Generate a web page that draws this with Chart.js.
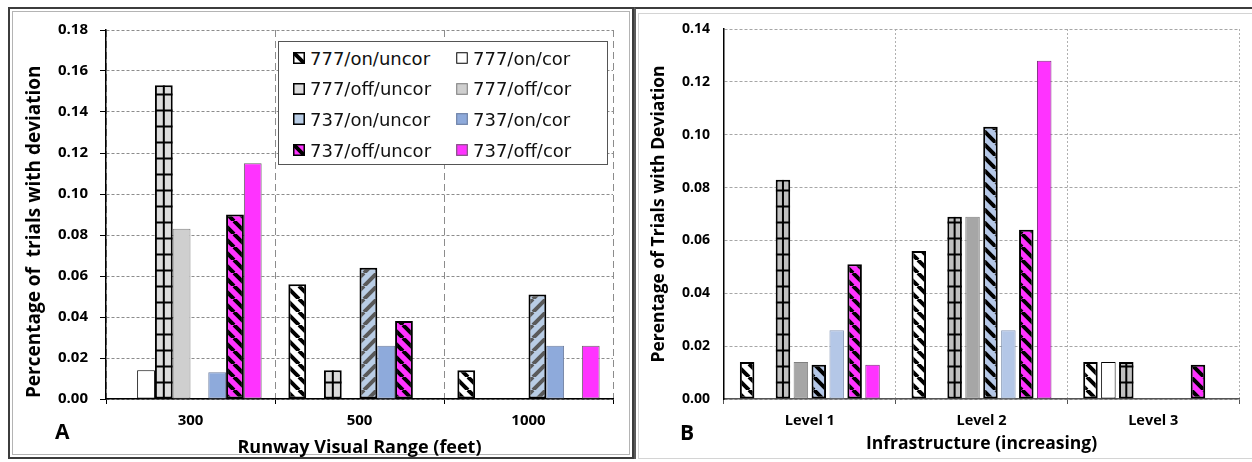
<!DOCTYPE html>
<html>
<head>
<meta charset="utf-8">
<script src="https://cdn.jsdelivr.net/npm/chart.js@4.4.1/dist/chart.umd.min.js"></script>
<style>
body { margin: 0; width: 1252px; height: 462px; background: #fff; position: relative; overflow: hidden; font-family: 'Open Sans', sans-serif; }
.frame { position: absolute; box-sizing: border-box; }
#frameA { left: 8px; top: 7px; width: 626px; height: 452px; border: 2px solid #3c3c3c; }
#frameA::after { content: ''; position: absolute; left: 2px; top: 2px; right: 2px; bottom: 2px; border: 1px solid #b4b4b4; }
#frameB { left: 634px; top: 7px; width: 640px; height: 452px; border-top: 2px solid #3c3c3c; border-left: 2px solid #5a5a5a; }
#frameB::after { content: ''; position: absolute; left: 2px; top: 4px; right: 0; bottom: 0; border: 1px solid #d4d4d4; }
#chartA { position: absolute; left: 0; top: 0; }
#chartB { position: absolute; left: 632px; top: 0; }
#legendA { position: absolute; left: 278px; top: 41px; width: 330px; height: 124px; box-sizing: border-box; border: 1px solid #555; background: #fff; font-family: 'DejaVu Sans', sans-serif; font-size: 18px; color: #111; }
.item { position: absolute; display: flex; align-items: center; height: 24px; white-space: nowrap; }
.item canvas { margin-right: 5px; }
.letter { position: absolute; font: bold 21px/21px 'Open Sans', sans-serif; color: #000; }
</style>
</head>
<body>
<div class="frame" id="frameA"></div>
<div class="frame" id="frameB"></div>
<canvas id="chartA" width="632" height="462"></canvas>
<canvas id="chartB" width="620" height="462"></canvas>
<div id="legendA"></div>
<div class="letter" style="left:55px; top:421px;">A</div>
<div class="letter" style="left:680px; top:422px;">B</div>

<script>
// categorias
const rvrLabels = ['300', '500', '1000'];
const levelLabels = ['Level 1', 'Level 2', 'Level 3'];
const seriesNames = ['777/on/uncor', '777/on/cor', '777/off/uncor', '777/off/cor',
                     '737/on/uncor', '737/on/cor', '737/off/uncor', '737/off/cor'];

// Panel A: por distancia visual de pista
const a777OnUncor  = [0,     0.056, 0.014];
const a777OnCor    = [0.014, 0,     0];
const a777OffUncor = [0.153, 0.014, 0];
const a777OffCor   = [0.083, 0,     0];
const a737OnUncor  = [0,     0.064, 0.051];
const a737OnCor    = [0.013, 0.026, 0.026];
const a737OffUncor = [0.090, 0.038, 0];
const a737OffCor   = [0.115, 0,     0.026];

// Panel B: por nivel de infraestructura
const b777OnUncor  = [0.014, 0.056, 0.014];
const b777OnCor    = [0,     0,     0.014];
const b777OffUncor = [0.083, 0.069, 0.014];
const b777OffCor   = [0.014, 0.069, 0];
const b737OnUncor  = [0.013, 0.103, 0];
const b737OnCor    = [0.026, 0.026, 0];
const b737OffUncor = [0.051, 0.064, 0.013];
const b737OffCor   = [0.013, 0.128, 0];

const valuesA = [a777OnUncor, a777OnCor, a777OffUncor, a777OffCor, a737OnUncor, a737OnCor, a737OffUncor, a737OffCor];
const valuesB = [b777OnUncor, b777OnCor, b777OffUncor, b777OffCor, b737OnUncor, b737OnCor, b737OffUncor, b737OffCor];

const FONT = 'Open Sans';

// Trama diagonal para las barras rayadas
function hatch(bg, fg, dir, size, lw) {
    const c = document.createElement('canvas');
    c.width = size; c.height = size;
    const g = c.getContext('2d');
    g.fillStyle = bg;
    g.fillRect(0, 0, size, size);
    g.strokeStyle = fg;
    g.lineWidth = lw;
    g.beginPath();
    for (let k = -1; k <= 1; k++) {
        if (dir === 'down') { g.moveTo(k * size, 0); g.lineTo((k + 1) * size, size); }
        else { g.moveTo(k * size, size); g.lineTo((k + 1) * size, 0); }
    }
    g.stroke();
    return g.createPattern(c, 'repeat');
}

const stylesA = [
    { bg: hatch('#ffffff', '#000', 'down', 13, 4), border: '#000', bw: 2 },
    { bg: '#ffffff', border: '#000', bw: 1 },
    { bg: '#dcdcdc', border: '#000', bw: 2, grid: 16 },
    { bg: '#cfcfcf', border: '#808080', bw: 1 },
    { bg: hatch('#b9cde5', '#5a5a5a', 'up', 13, 4), border: '#000', bw: 2, swatch: '#b9cde5' },
    { bg: '#8eaadb', border: '#6f7f9f', bw: 1 },
    { bg: hatch('#ff33ff', '#000', 'down', 13, 4), border: '#000', bw: 2 },
    { bg: '#ff33ff', border: '#666', bw: 1 }
];

const stylesB = [
    { bg: hatch('#ffffff', '#000', 'down', 13, 4), border: '#000', bw: 2 },
    { bg: '#ffffff', border: '#000', bw: 1 },
    { bg: '#c0c0c0', border: '#000', bw: 2, grid: 16 },
    { bg: '#a6a6a6', border: '#808080', bw: 1 },
    { bg: hatch('#b4c7e7', '#000', 'down', 13, 4), border: '#000', bw: 2 },
    { bg: '#b4c7e7', border: '#8a9bb8', bw: 1 },
    { bg: hatch('#ff33ff', '#000', 'down', 13, 4), border: '#000', bw: 2 },
    { bg: '#ff33ff', border: '#7f2f7f', bw: 1 }
];

// Cuadricula dentro de las barras 777/off/uncor
const gridFill = {
    id: 'gridFill',
    afterDatasetsDraw(chart) {
        const ctx = chart.ctx;
        chart.data.datasets.forEach((ds, i) => {
            if (!ds.gridStep) return;
            chart.getDatasetMeta(i).data.forEach(bar => {
                const left = bar.x - bar.width / 2;
                const top = bar.y, bottom = bar.base;
                if (bottom - top < 1) return;
                ctx.save();
                ctx.beginPath();
                ctx.rect(left, top, bar.width, bottom - top);
                ctx.clip();
                ctx.strokeStyle = '#000';
                ctx.lineWidth = 2;
                ctx.beginPath();
                for (let y = bottom - ds.gridStep; y > top + 2; y -= ds.gridStep) {
                    ctx.moveTo(left, y);
                    ctx.lineTo(left + bar.width, y);
                }
                ctx.moveTo(bar.x, top);
                ctx.lineTo(bar.x, bottom);
                ctx.stroke();
                ctx.restore();
            });
        });
    }
};

function makeDatasets(values, styles) {
    return values.map((data, i) => ({
        label: seriesNames[i],
        data: data,
        backgroundColor: styles[i].bg,
        borderColor: styles[i].border,
        borderWidth: styles[i].bw,
        borderSkipped: false,
        gridStep: styles[i].grid || 0,
        swatch: styles[i].swatch
    }));
}

const chartA = new Chart(document.getElementById('chartA'), {
    type: 'bar',
    data: { labels: rvrLabels, datasets: makeDatasets(valuesA, stylesA) },
    options: {
        responsive: false,
        animation: false,
        categoryPercentage: 0.842,
        barPercentage: 1.0,
        layout: { padding: { left: 0, right: 19, top: 30, bottom: 3 } },
        plugins: { legend: { display: false }, tooltip: { enabled: false } },
        scales: {
            x: {
                afterFit: s => { s.height = 60; },
                grid: { color: '#8c8c8c', tickLength: 5, tickColor: '#000' },
                border: { color: '#000', width: 1.5, dash: [7, 4] },
                ticks: { color: '#000', padding: 8, font: { family: FONT, weight: 'bold', size: 15 } },
                title: { display: true, text: 'Runway Visual Range (feet)', color: '#000', padding: 0,
                         font: { family: FONT, weight: 'bold', size: 18 } }
            },
            y: {
                min: 0, max: 0.18,
                afterFit: s => { s.width = 106; },
                grid: { color: '#8c8c8c', tickLength: 6, tickColor: '#000' },
                border: { color: '#000', width: 1.5, dash: [3, 2] },
                ticks: { stepSize: 0.02, color: '#000', padding: 12, callback: v => v.toFixed(2),
                         font: { family: FONT, weight: 'bold', size: 15 } },
                // espacios finales: en el original el titulo esta algo mas abajo que el centro
                title: { display: true, text: 'Percentage of  trials with deviation       ', color: '#000',
                         padding: { top: 23, bottom: 0 }, font: { family: FONT, weight: 'bold', size: 19 } }
            }
        }
    },
    plugins: [gridFill]
});

const chartB = new Chart(document.getElementById('chartB'), {
    type: 'bar',
    data: { labels: levelLabels, datasets: makeDatasets(valuesB, stylesB) },
    options: {
        responsive: false,
        animation: false,
        categoryPercentage: 0.835,
        barPercentage: 0.81,
        layout: { padding: { left: 0, right: 13, top: 29, bottom: 7 } },
        plugins: { legend: { display: false }, tooltip: { enabled: false } },
        scales: {
            x: {
                afterFit: s => { s.height = 56; },
                grid: { color: '#b0b0b0', tickLength: 5, tickColor: '#555' },
                border: { color: '#555', width: 1.5, dash: [2, 2] },
                ticks: { color: '#000', padding: 8, font: { family: FONT, weight: 'bold', size: 14.5 } },
                title: { display: true, text: 'Infrastructure (increasing)', color: '#000', padding: 0,
                         font: { family: FONT, weight: 'bold', size: 17.5 } }
            },
            y: {
                min: 0, max: 0.14,
                afterFit: s => { s.width = 92; },
                grid: { color: '#a6a6a6', drawTicks: false },
                border: { color: '#000', width: 1.5, dash: [3, 2] },
                ticks: { stepSize: 0.02, color: '#000', padding: 14, callback: v => v.toFixed(2),
                         font: { family: FONT, weight: 'bold', size: 14 } },
                title: { display: true, text: 'Perentage of Trials with Deviation', color: '#000',
                         padding: { top: 17, bottom: 0 }, font: { family: FONT, weight: 'bold', size: 17.5 } }
            }
        }
    },
    plugins: [gridFill]
});

// Leyenda del panel A (dos columnas, dentro del grafico)
function buildLegend(chart, el) {
    chart.data.datasets.forEach((ds, i) => {
        const row = Math.floor(i / 2), col = i % 2;
        const item = document.createElement('div');
        item.className = 'item';
        item.style.left = (col ? 177 : 14) + 'px';
        item.style.top = (4 + row * 30.7) + 'px';
        const sw = document.createElement('canvas');
        sw.width = 12; sw.height = 12;
        const g = sw.getContext('2d');
        g.fillStyle = ds.swatch || ds.backgroundColor;
        g.fillRect(0, 0, 12, 12);
        g.strokeStyle = ds.borderColor;
        g.lineWidth = ds.borderWidth > 1 ? 1.5 : 1;
        g.strokeRect(0.75, 0.75, 10.5, 10.5);
        item.appendChild(sw);
        const t = document.createElement('span');
        t.textContent = ds.label;
        item.appendChild(t);
        el.appendChild(item);
    });
}
buildLegend(chartA, document.getElementById('legendA'));
</script>
</body>
</html>
